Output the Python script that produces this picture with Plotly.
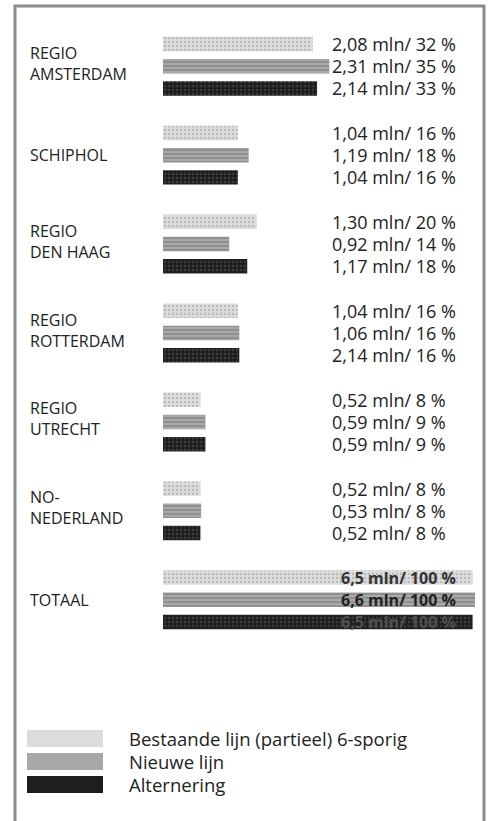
import plotly.graph_objects as go

# ---------------- data ----------------
regions = ["REGIO<br>AMSTERDAM", "SCHIPHOL", "REGIO<br>DEN HAAG", "REGIO<br>ROTTERDAM",
           "REGIO<br>UTRECHT", "NO-<br>NEDERLAND", "TOTAAL"]
series_names = ["Bestaande lijn (partieel) 6-sporig", "Nieuwe lijn", "Alternering"]

bestaande = [2.08, 1.04, 1.30, 1.04, 0.52, 0.52, 6.5]
nieuwe = [2.31, 1.19, 0.92, 1.06, 0.59, 0.53, 6.6]
alternering = [2.14, 1.04, 1.17, 1.06, 0.59, 0.52, 6.5]

bestaande_labels = ["2,08 mln/ 32 %", "1,04 mln/ 16 %", "1,30 mln/ 20 %", "1,04 mln/ 16 %",
                    "0,52 mln/ 8 %", "0,52 mln/ 8 %", "6,5 mln/ 100 %"]
nieuwe_labels = ["2,31 mln/ 35 %", "1,19 mln/ 18 %", "0,92 mln/ 14 %", "1,06 mln/ 16 %",
                 "0,59 mln/ 9 %", "0,53 mln/ 8 %", "6,6 mln/ 100 %"]
alternering_labels = ["2,14 mln/ 33 %", "1,04 mln/ 16 %", "1,17 mln/ 18 %", "2,14 mln/ 16 %",
                      "0,59 mln/ 9 %", "0,52 mln/ 8 %", "6,5 mln/ 100 %"]

# ---------------- styling ----------------
W, H = 491, 821
PL, PR = 163, 475            # plot area in px (x)
FONT = "Open Sans"
TXT = "#222222"
fills = [dict(bg="#dcdcdc", fg="#9a9a9a", shape="."),
         dict(bg="#a8a8a8", fg="#555555", shape="-"),
         dict(bg="#1e1e1e", fg="#5a5a5a", shape=".")]
values = [bestaande, nieuwe, alternering]
labels = [bestaande_labels, nieuwe_labels, alternering_labels]

n_reg = len(regions)
slot = lambda g, j: 4 * g + j
Y0, Y26 = 44, 622
px_per_slot = (Y26 - Y0) / 26.0
y_top = -Y0 / px_per_slot
y_bot = 26 + (H - Y26) / px_per_slot

fig = go.Figure()
for j in range(3):
    pat = dict(shape=fills[j]["shape"], bgcolor=fills[j]["bg"], fgcolor=fills[j]["fg"],
               size=4, solidity=0.3)
    fig.add_trace(go.Bar(
        x=values[j][:-1], y=[slot(g, j) for g in range(n_reg - 1)], orientation="h",
        width=0.65, marker=dict(color=fills[j]["bg"], pattern=pat, line=dict(width=0)),
        name=series_names[j], showlegend=False, xaxis="x", yaxis="y"))
    fig.add_trace(go.Bar(
        x=[values[j][-1]], y=[slot(n_reg - 1, j)], orientation="h",
        width=0.65, marker=dict(color=fills[j]["bg"], pattern=pat, line=dict(width=0)),
        name=series_names[j], showlegend=False, xaxis="x2", yaxis="y"))

ann = []
def xp(px):
    return (px - PL) / (PR - PL)
def yp(px):
    return 1 - px / H

for g, r in enumerate(regions):
    ann.append(dict(xref="paper", yref="y", x=xp(28), y=slot(g, 1), text=r,
                    xanchor="left", yanchor="middle", align="left", showarrow=False,
                    yshift=3 if "<br>" in r else 0,
                    font=dict(family=FONT, size=16, color=TXT)))
for j in range(3):
    for g in range(n_reg):
        if g < n_reg - 1:
            ann.append(dict(xref="paper", yref="y", x=xp(330), y=slot(g, j),
                            text=labels[j][g], xanchor="left", yanchor="middle",
                            showarrow=False, font=dict(family=FONT, size=18, color=TXT)))
        else:
            col = ["#333333", "#222222", "#505050"][j]
            ann.append(dict(xref="paper", yref="y", x=xp(458), y=slot(g, j),
                            text="<b>" + labels[j][g] + "</b>", xanchor="right",
                            yanchor="middle", showarrow=False,
                            font=dict(family=FONT, size=16, color=col)))

shapes = []
for j, (name, ly) in enumerate(zip(series_names, [738, 761, 784])):
    shapes.append(dict(type="rect", xref="paper", yref="paper",
                       x0=xp(27), x1=xp(103), y0=yp(ly + 9), y1=yp(ly - 8),
                       fillcolor=fills[j]["bg"], line=dict(width=0), layer="below"))
    ann.append(dict(xref="paper", yref="paper", x=xp(127), y=yp(ly), text=name,
                    xanchor="left", yanchor="middle", showarrow=False,
                    font=dict(family=FONT, size=18.5, color=TXT)))

shapes.append(dict(type="rect", xref="paper", yref="paper",
                   x0=xp(15), x1=xp(484), y0=yp(H + 10), y1=yp(6),
                   line=dict(color="#8c8c8c", width=3), fillcolor="rgba(0,0,0,0)"))

fig.update_layout(
    width=W, height=H, margin=dict(l=PL, r=W - PR, t=0, b=0),
    paper_bgcolor="white", plot_bgcolor="white", barmode="overlay",
    xaxis=dict(range=[0, (PR - PL) / 72.0], visible=False, fixedrange=True),
    xaxis2=dict(range=[0, 6.55], overlaying="x", visible=False, fixedrange=True),
    yaxis=dict(range=[y_bot, y_top], visible=False, fixedrange=True),
    annotations=ann, shapes=shapes, showlegend=False,
)
fig.write_html("out.html", config={"displayModeBar": False},
               post_script="document.body.style.margin='0';document.body.style.overflow='hidden';")
